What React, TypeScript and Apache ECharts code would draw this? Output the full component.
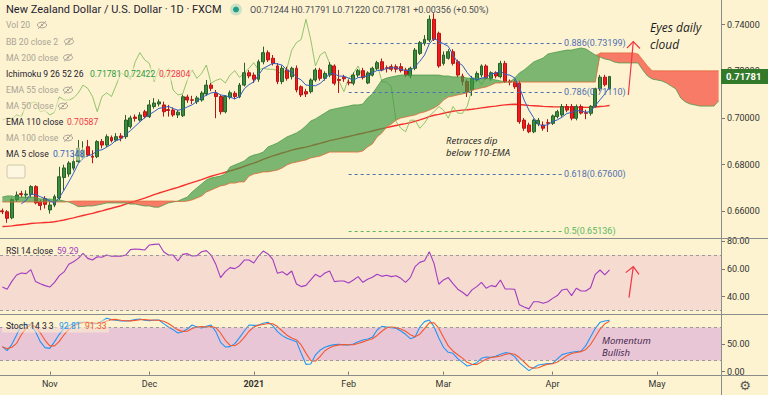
import React, { useEffect, useRef } from "react";
import * as echarts from "echarts";

const BG = "#fdf3d0";
const FONT = "Roboto, 'DejaVu Sans', sans-serif";

// ---- categories ----
const START_DATE = "2020-10-19";
const HOLIDAYS = ["2020-12-25", "2021-01-01"];
const CATEGORY_COUNT = 152;
const MONTH_LABELS: Record<string, string> = {
  "2020-11-02": "Nov",
  "2020-12-01": "Dec",
  "2021-01-04": "2021",
  "2021-02-01": "Feb",
  "2021-03-01": "Mar",
  "2021-04-01": "Apr",
  "2021-05-03": "May",
};

// ---- price data (daily OHLC) ----
const OPEN = [
  0.6602, 0.6598, 0.6572, 0.665, 0.6676, 0.667, 0.6672, 0.6706, 0.664, 0.6655,
  0.6606, 0.6627, 0.6657, 0.6745, 0.676, 0.6785, 0.6813, 0.683, 0.6877, 0.6836,
  0.6834, 0.6899, 0.6884, 0.6916, 0.6905, 0.6923, 0.692, 0.6963, 0.7004, 0.6991,
  0.7027, 0.7006, 0.7049, 0.706, 0.7056, 0.7036, 0.7034, 0.7013, 0.701, 0.709,
  0.7078, 0.707, 0.7077, 0.7103, 0.7141, 0.7106, 0.7092, 0.7027, 0.7089, 0.7106,
  0.7091, 0.7141, 0.7194, 0.7184, 0.7166, 0.7241, 0.728, 0.7256, 0.7223, 0.7156,
  0.7206, 0.7177, 0.7213, 0.7134, 0.7113, 0.7113, 0.7163, 0.7206, 0.717, 0.7184,
  0.7223, 0.7165, 0.7175, 0.7153, 0.7149, 0.7184, 0.7203, 0.715, 0.7184, 0.7213,
  0.7241, 0.7215, 0.722, 0.722, 0.722, 0.7206, 0.718, 0.7213, 0.7277, 0.732,
  0.7334, 0.7423, 0.7363, 0.7234, 0.7256, 0.7284, 0.7241, 0.718, 0.7156, 0.712,
  0.7163, 0.7184, 0.7223, 0.717, 0.7194, 0.7177, 0.7234, 0.7158, 0.7156, 0.7149,
  0.6991, 0.697, 0.6941, 0.6975, 0.697, 0.698, 0.6977, 0.7006, 0.7013, 0.7049,
  0.7049, 0.6999, 0.7049, 0.7023, 0.702, 0.705, 0.7125, 0.7175, 0.71244,
];
const HIGH = [
  0.6612, 0.6605, 0.6656, 0.6685, 0.6688, 0.669, 0.6712, 0.6712, 0.665, 0.6665,
  0.664, 0.6672, 0.6791, 0.68, 0.6815, 0.685, 0.6906, 0.69, 0.6906, 0.6862,
  0.6905, 0.691, 0.693, 0.6925, 0.6935, 0.6935, 0.7013, 0.701, 0.7015, 0.7025,
  0.7035, 0.7077, 0.7085, 0.708, 0.707, 0.7056, 0.7045, 0.7035, 0.71, 0.71,
  0.7095, 0.7095, 0.7115, 0.7163, 0.715, 0.712, 0.71, 0.7098, 0.7118, 0.7115,
  0.715, 0.7237, 0.7205, 0.7195, 0.725, 0.7306, 0.729, 0.727, 0.7235, 0.7225,
  0.722, 0.722, 0.7225, 0.714, 0.7125, 0.717, 0.7215, 0.7215, 0.72, 0.724,
  0.723, 0.7206, 0.7185, 0.7165, 0.7195, 0.721, 0.7215, 0.72, 0.722, 0.7245,
  0.7255, 0.7225, 0.723, 0.723, 0.7235, 0.7215, 0.722, 0.73, 0.733, 0.7355,
  0.744, 0.7449, 0.737, 0.7285, 0.7295, 0.7295, 0.725, 0.719, 0.7165, 0.718,
  0.72, 0.723, 0.723, 0.72, 0.72, 0.7245, 0.7245, 0.7165, 0.7165, 0.716,
  0.7, 0.698, 0.6998, 0.7, 0.6985, 0.6995, 0.7015, 0.7035, 0.706, 0.706,
  0.706, 0.7058, 0.7058, 0.7035, 0.7055, 0.713, 0.7185, 0.7185, 0.71791,
];
const LOW = [
  0.6588, 0.6551, 0.6566, 0.664, 0.666, 0.6655, 0.666, 0.663, 0.6605, 0.6612,
  0.659, 0.6618, 0.6649, 0.669, 0.6748, 0.6775, 0.6808, 0.682, 0.6835, 0.6806,
  0.6828, 0.687, 0.6875, 0.6895, 0.6898, 0.69, 0.691, 0.6955, 0.6985, 0.6985,
  0.6998, 0.7, 0.704, 0.705, 0.7006, 0.7006, 0.7005, 0.7, 0.7004, 0.7065,
  0.706, 0.706, 0.707, 0.7095, 0.7115, 0.6999, 0.7015, 0.702, 0.708, 0.708,
  0.7085, 0.7135, 0.717, 0.715, 0.7155, 0.723, 0.724, 0.7225, 0.7145, 0.7145,
  0.716, 0.7165, 0.711, 0.709, 0.709, 0.7105, 0.7155, 0.716, 0.716, 0.7175,
  0.714, 0.7107, 0.7155, 0.714, 0.714, 0.7175, 0.7165, 0.7145, 0.7178, 0.7205,
  0.72, 0.7195, 0.72, 0.7195, 0.7195, 0.7175, 0.717, 0.7205, 0.727, 0.731,
  0.7325, 0.733, 0.7215, 0.7225, 0.725, 0.7225, 0.7175, 0.714, 0.709, 0.7095,
  0.7155, 0.7175, 0.7165, 0.716, 0.717, 0.717, 0.715, 0.714, 0.7125, 0.6975,
  0.6945, 0.6935, 0.6935, 0.6965, 0.6945, 0.694, 0.697, 0.6998, 0.7005, 0.7025,
  0.699, 0.699, 0.7015, 0.6995, 0.701, 0.7045, 0.7115, 0.7135, 0.7122,
];
const CLOSE = [
  0.6598, 0.657, 0.665, 0.667, 0.6672, 0.6674, 0.6706, 0.6636, 0.6625, 0.663,
  0.6627, 0.6663, 0.6748, 0.6786, 0.6807, 0.6813, 0.687, 0.6862, 0.6841, 0.6832,
  0.6899, 0.6884, 0.692, 0.6903, 0.692, 0.6914, 0.6991, 0.7, 0.6998, 0.7013,
  0.7006, 0.7056, 0.7064, 0.7069, 0.7027, 0.7032, 0.7013, 0.7025, 0.7091, 0.7077,
  0.7076, 0.7086, 0.7107, 0.7141, 0.7127, 0.7092, 0.7027, 0.7092, 0.7108, 0.7092,
  0.7141, 0.7194, 0.718, 0.7166, 0.7241, 0.728, 0.7249, 0.7234, 0.7156, 0.7213,
  0.717, 0.7213, 0.712, 0.7099, 0.7103, 0.7163, 0.7206, 0.717, 0.7191, 0.7227,
  0.7149, 0.7161, 0.7168, 0.715, 0.7184, 0.7203, 0.7174, 0.7193, 0.7213, 0.7237,
  0.7206, 0.7213, 0.7209, 0.7209, 0.7203, 0.7184, 0.7213, 0.7291, 0.7323, 0.7337,
  0.7423, 0.7337, 0.7223, 0.727, 0.7284, 0.7234, 0.7184, 0.7156, 0.7113, 0.717,
  0.7191, 0.7223, 0.717, 0.7194, 0.718, 0.7234, 0.7156, 0.7154, 0.7134, 0.6984,
  0.6956, 0.6941, 0.6991, 0.699, 0.6956, 0.6978, 0.7009, 0.7027, 0.7049, 0.7034,
  0.6999, 0.7049, 0.7021, 0.702, 0.705, 0.7125, 0.7175, 0.71425, 0.71781,
];

// ---- Ichimoku leading spans (displaced 26 bars ahead) ----
const SPAN_A = [
  0.6661, 0.6666, 0.6666, 0.6661, 0.6661, 0.6661, 0.6661, 0.6661, 0.6653, 0.6653,
  0.6653, 0.6649, 0.6649, 0.6644, 0.664, 0.6631, 0.662, 0.6621, 0.6623, 0.6623,
  0.6627, 0.6631, 0.6636, 0.6636, 0.6636, 0.6636, 0.6636, 0.6631, 0.6631, 0.6627,
  0.6623, 0.6623, 0.6618, 0.6618, 0.6627, 0.6636, 0.664, 0.6644, 0.6653, 0.6661,
  0.6683, 0.67, 0.6717, 0.6734, 0.6743, 0.6747, 0.6751, 0.676, 0.679, 0.6799,
  0.6807, 0.6816, 0.6833, 0.6841, 0.6846, 0.6854, 0.6876, 0.6884, 0.6893, 0.6906,
  0.6919, 0.6927, 0.6936, 0.6949, 0.6966, 0.6987, 0.6996, 0.7009, 0.7021, 0.7034,
  0.7039, 0.7043, 0.7047, 0.7051, 0.7056, 0.7056, 0.706, 0.7086, 0.7103, 0.7133,
  0.7163, 0.7171, 0.7176, 0.718, 0.7184, 0.7184, 0.7184, 0.7184, 0.7184, 0.7184,
  0.7184, 0.7184, 0.7184, 0.718, 0.718, 0.7176, 0.7176, 0.7176, 0.7171, 0.7171,
  0.7171, 0.7171, 0.7171, 0.7167, 0.7163, 0.7159, 0.7154, 0.7154, 0.7171, 0.7193,
  0.7206, 0.7223, 0.724, 0.7249, 0.7257, 0.7274, 0.7279, 0.7283, 0.7287, 0.7291,
  0.7291, 0.7296, 0.73, 0.7296, 0.7283, 0.727, 0.7261, 0.7253, 0.7249, 0.724,
  0.7236, 0.7236, 0.7236, 0.7236, 0.7236, 0.7206, 0.718, 0.7167, 0.7163, 0.7159,
  0.715, 0.7137, 0.7124, 0.7086, 0.7069, 0.706, 0.7056, 0.7051, 0.7051, 0.7051,
  0.7051, 0.7073,
];
const SPAN_B = [
  0.664, 0.664, 0.664, 0.664, 0.664, 0.664, 0.664, 0.664, 0.664, 0.664,
  0.664, 0.664, 0.664, 0.664, 0.6642, 0.6644, 0.6644, 0.6644, 0.6644, 0.6644,
  0.6644, 0.6644, 0.6644, 0.6644, 0.6644, 0.6644, 0.6644, 0.6644, 0.6644, 0.6644,
  0.6644, 0.6644, 0.6644, 0.6644, 0.6644, 0.6644, 0.6644, 0.6642, 0.6642, 0.6644,
  0.6649, 0.6657, 0.6666, 0.6683, 0.6691, 0.67, 0.6709, 0.6713, 0.6721, 0.6721,
  0.6726, 0.6726, 0.6751, 0.676, 0.6764, 0.6769, 0.6769, 0.6773, 0.6777, 0.6786,
  0.6799, 0.6807, 0.6811, 0.6816, 0.682, 0.6829, 0.6833, 0.6837, 0.6846, 0.6854,
  0.6854, 0.6854, 0.6854, 0.6854, 0.6854, 0.6854, 0.6859, 0.6876, 0.6889, 0.6919,
  0.6936, 0.6961, 0.6974, 0.6991, 0.7, 0.7004, 0.7009, 0.7013, 0.7021, 0.7026,
  0.7034, 0.7043, 0.7056, 0.7077, 0.709, 0.7094, 0.7099, 0.7103, 0.7107, 0.712,
  0.7124, 0.7129, 0.7133, 0.7141, 0.715, 0.715, 0.7154, 0.7154, 0.7154, 0.7154,
  0.7154, 0.7154, 0.7154, 0.7154, 0.7154, 0.7154, 0.7154, 0.7154, 0.7154, 0.7154,
  0.7154, 0.7154, 0.7154, 0.7154, 0.7154, 0.7154, 0.7279, 0.7279, 0.7279, 0.7279,
  0.7279, 0.7279, 0.7279, 0.7279, 0.7274, 0.7249, 0.7223, 0.7202, 0.7202, 0.7202,
  0.7202, 0.7202, 0.7202, 0.7202, 0.7202, 0.7202, 0.7202, 0.7202, 0.7202, 0.7202,
  0.7202, 0.7202,
];

// ---- oscillators ----
const RSI = [
  46.9, 45.3, 51, 55.6, 57, 56.6, 59.5, 50.8, 49.3, 47.9,
  46.9, 50.3, 55.1, 57.8, 63.3, 65.2, 67.6, 71.2, 67.6, 66.4,
  68.8, 68.4, 70, 69.1, 69.3, 69.1, 70, 73.9, 74.4, 74.1,
  73.6, 77.3, 77.7, 78, 72.4, 70, 70, 65.7, 70.5, 71,
  69.3, 69.6, 72.4, 73.2, 70, 63.3, 53.7, 58, 60.9, 60.2,
  62.3, 66.4, 66.4, 64.3, 69.3, 72.9, 70.8, 66.9, 56.8, 58,
  55.6, 58.5, 49.1, 47.2, 48.1, 52, 56.1, 54.2, 57, 58.5,
  50.8, 51.3, 51.3, 49.8, 52, 54.4, 50.3, 52.5, 53.9, 56.1, 54.6,
  55.4, 54.4, 55.1, 53.2, 50.3, 53.7, 61.6, 64.7, 65.9, 72.4,
  64, 48.9, 52, 53.7, 49.3, 45.3, 43.1, 40.4, 44.8, 47.2,
  50.3, 46, 47.9, 47.2, 52, 45.5, 45.5, 45.3, 34, 32.5,
  31.1, 36.3, 36.3, 35.1, 36.3, 38.7, 40.7, 44.8, 45.5, 40.7,
  46, 44, 44, 46.4, 56.1, 59.2, 55.6, 59.29,
];
const STOCH_K = [
  45.2, 37.9, 49.4, 66.3, 84.3, 85.5, 84.3, 72.3, 54.2, 43.4,
  42.1, 54.2, 67.5, 78.3, 83.1, 86.8, 89.2, 89.2, 89.2, 86.8,
  86.8, 91.6, 96.4, 94, 92.8, 91.6, 91.6, 92.2, 94, 95.2,
  92.8, 92.2, 93.4, 93.4, 86.8, 80.7, 75.9, 69.9, 72.3, 77.1,
  84.3, 80.7, 78.9, 81.9, 84.3, 72.3, 53, 44.6, 45.2, 50.6,
  61.4, 73.5, 84.3, 83.7, 84.3, 87.4, 89.2, 83.1, 72.3, 65.1,
  60.2, 57.2, 54.2, 33.1, 13.2, 13.8, 30.1, 39.1, 44, 47,
  48.8, 49.4, 48.2, 48.2, 50, 54.2, 57.2, 59, 62, 75.3, 81.9,
  80.7, 79.5, 78.3, 73.5, 67.5, 59.6, 62.6, 80.7, 90.4, 93.4,
  81.3, 60.8, 44, 34.9, 33.1, 23.5, 16.8, 10.2, 12.6, 16.2,
  24.1, 26.5, 25.9, 27.7, 31.3, 34.3, 33.1, 27.1, 16.2, 9,
  1.8, 7.2, 12, 13.2, 14.4, 15, 22.9, 30.7, 33.1, 34.9,
  36.1, 37.3, 47, 62.6, 78.3, 89.2, 91.6, 92.81,
];

const EMA110_SEED = 0.6535; // EMA 110 value at the first visible bar
const FIB_FROM = "2021-02-01";
const FIB_TO = "2021-04-05";
const FIB_RATIOS = ["0.886", "0.786", "0.618", "0.5"];
const FIB_VALUES = [0.73199, 0.7111, 0.676, 0.65136];
const FIB_COLORS = ["#4f6fb3", "#4f6fb3", "#4f6fb3", "#5cb65f"];

const PRICE_MIN = 0.64857;
const PRICE_MAX = 0.75057;
const PRICE_TICKS = [0.66, 0.68, 0.7, 0.72, 0.74];
const RSI_MIN = 27.4;
const RSI_MAX = 81.6;
const RSI_TICKS = [40, 60, 80];
const STOCH_MIN = -6.1;
const STOCH_MAX = 102.4;
const STOCH_TICKS = [0, 50];

function tradingDays(start: string, count: number, holidays: string[]): string[] {
  const out: string[] = [];
  const d = new Date(start + "T00:00:00Z");
  while (out.length < count) {
    const day = d.getUTCDay();
    const s = d.toISOString().slice(0, 10);
    if (day !== 0 && day !== 6 && holidays.indexOf(s) < 0) out.push(s);
    d.setUTCDate(d.getUTCDate() + 1);
  }
  return out;
}

function buildGraphic(priceY: number) {
  const els: any[] = [];
  const Z = 100;
  const text = (x: number, y: number, t: string, font: string, fill: string, align = "left") =>
    els.push({ type: "text", x, y, z: Z + 2, silent: true, style: { text: t, font, fill, align, verticalAlign: "middle" } });
  const line = (x1: number, y1: number, x2: number, y2: number, stroke: string, lw = 1) =>
    els.push({ type: "line", z: Z, silent: true, shape: { x1, y1, x2, y2 }, style: { stroke, lineWidth: lw } });
  const poly = (pts: number[][], stroke: string, lw = 1.2) =>
    els.push({ type: "polyline", z: Z + 1, silent: true, shape: { points: pts }, style: { stroke, lineWidth: lw, fill: "none" } });
  const bg = (x: number, y: number, w: number, h: number) =>
    els.push({ type: "rect", z: Z + 1, silent: true, shape: { x, y, width: w, height: h }, style: { fill: "rgba(253,243,208,0.55)" } });
  const eye = (cx: number, cy: number) => {
    const c = "#aaa395";
    els.push({ type: "ellipse", z: Z + 2, silent: true, shape: { cx, cy, rx: 4.6, ry: 2.8 }, style: { stroke: c, fill: "none", lineWidth: 1 } });
    els.push({ type: "circle", z: Z + 2, silent: true, shape: { cx, cy, r: 1.1 }, style: { fill: c } });
    els.push({ type: "line", z: Z + 2, silent: true, shape: { x1: cx - 4, y1: cy + 3.8, x2: cx + 4, y2: cy - 3.8 }, style: { stroke: c, lineWidth: 1 } });
  };

  // pane separators and price-scale border
  line(0, 238.5, 768, 238.5, "#8c8c8c");
  line(0, 314.5, 768, 314.5, "#8c8c8c");
  line(0, 375.5, 768, 375.5, "#8c8c8c");
  line(721.5, 0, 721.5, 395, "#8c8c8c");

  // title & OHLC
  const dark = "#1f2230";
  const grey = "#aaa395";
  const lf = `8.6px ${FONT}`;
  text(6, 9.5, "New Zealand Dollar / U.S. Dollar · 1D · FXCM", `11px ${FONT}`, dark);
  els.push({ type: "circle", z: Z + 2, silent: true, shape: { cx: 236, cy: 9.5, r: 6 }, style: { fill: "rgba(38,166,154,0.22)" } });
  els.push({ type: "circle", z: Z + 2, silent: true, shape: { cx: 236, cy: 9.5, r: 3 }, style: { fill: "#1f9e8c" } });
  text(250, 9.5, "O0.71244 H0.71791 L0.71220 C0.71781 +0.00356 (+0.50%)", `9px ${FONT}`, "#4a4d55");

  // indicator legend rows
  bg(2, 18.5, 48, 13);
  text(6, 25, "Vol 20", lf, grey); eye(42, 25);
  bg(2, 35, 74, 13);
  text(6, 41.5, "BB 20 close 2", lf, grey); eye(69, 41.5);
  bg(2, 51, 73, 13);
  text(6, 57.5, "MA 200 close", lf, grey); eye(68, 57.5);
  bg(2, 67.5, 190, 13);
  text(6, 74, "Ichimoku 9 26 52 26", lf, dark);
  text(90, 74, "0.71781", lf, "#2f9a43");
  text(124, 74, "0.72422", lf, "#2f9a43");
  text(159, 74, "0.72804", lf, "#f23645");
  bg(2, 83.5, 73, 13);
  text(6, 90, "EMA 55 close", lf, grey); eye(68, 90);
  bg(2, 99.5, 68, 13);
  text(6, 106, "MA 50 close", lf, grey); eye(63, 106);
  bg(2, 115.5, 98, 13);
  text(6, 122, "EMA 110 close", lf, dark);
  text(67, 122, "0.70587", lf, "#f23645");
  bg(2, 131.5, 73, 13);
  text(6, 138, "MA 100 close", lf, grey); eye(68, 138);
  bg(2, 147.5, 84, 13);
  text(6, 154, "MA 5 close", lf, dark);
  text(53, 154, "0.71348", lf, "#2f5fc4");

  // collapse button
  els.push({ type: "rect", z: Z + 2, silent: true, shape: { x: 7, y: 165, width: 18, height: 13, r: 2 }, style: { fill: "#fdf6e0", stroke: "#cfc6aa", lineWidth: 1 } });
  poly([[12.5, 173.5], [16, 170], [19.5, 173.5]], "#333", 1.2);

  // RSI legend
  text(6, 250.5, "RSI 14 close", lf, dark);
  text(57, 250.5, "59.29", lf, "#a23cc0");

  // Stoch legend
  bg(2, 319.5, 107, 13);
  text(6, 325.7, "Stoch 14 3 3", lf, dark);
  text(59, 325.7, "92.81", lf, "#2196f3");
  text(85, 325.7, "91.33", lf, "#f4572e");

  // annotations (one text per line, spaced so the lines do not collide)
  const eyeFont = `italic 12px 'Open Sans'`;
  text(650, 27.5, "Eyes daily", eyeFont, "#1c1c1c");
  text(650, 44, "cloud", eyeFont, "#1c1c1c");
  const noteFont = `italic 9.5px 'Open Sans'`;
  text(446, 140.5, "Retraces dip", noteFont, "#222");
  text(446, 152.5, "below 110-EMA", noteFont, "#222");
  text(602, 340.5, "Momentum", noteFont, "#3d2048");
  text(602, 352.5, "Bullish", noteFont, "#3d2048");

  // red arrows
  const red = "#f23645";
  poly([[628.3, 95], [633.3, 41.5]], red);
  poly([[627, 48], [633.3, 41.5], [640, 48.5]], red);
  poly([[629, 297.7], [633.3, 266.7]], red);
  poly([[625.7, 272.6], [633.3, 266.7], [639, 274.3]], red);

  // current price label
  els.push({ type: "rect", z: Z + 3, silent: true, shape: { x: 721, y: priceY - 7.5, width: 47, height: 15 }, style: { fill: "#33792a" } });
  els.push({ type: "text", x: 726, y: priceY, z: Z + 4, silent: true, style: { text: CLOSE[CLOSE.length - 1].toFixed(5), font: `bold 9.5px ${FONT}`, fill: "#ffffff", align: "left", verticalAlign: "middle" } });

  // settings gear
  text(745, 385, "\u2699", `13px 'DejaVu Sans'`, "#555", "center");

  return els;
}

export default function App() {
  const ref = useRef<HTMLDivElement>(null);

  useEffect(() => {
    const el = ref.current;
    if (!el) return;
    const chart = echarts.init(el, null, { renderer: "svg" });

    const dates = tradingDays(START_DATE, CATEGORY_COUNT, HOLIDAYS);
    const candles = OPEN.map((o, i) => [o, CLOSE[i], LOW[i], HIGH[i]]);

    const k = 2 / 111;
    const ema: number[] = [];
    CLOSE.forEach((c, i) => {
      ema.push(i === 0 ? EMA110_SEED : ema[i - 1] + k * (c - ema[i - 1]));
    });
    const ma5 = CLOSE.map((_, i) => {
      if (i < 4) return null;
      let s = 0;
      for (let j = i - 4; j <= i; j++) s += CLOSE[j];
      return s / 5;
    });
    const lagging = dates.map((_, i) => (i + 26 < CLOSE.length ? CLOSE[i + 26] : null));
    const stochD = STOCH_K.map((_, i) => {
      const from = Math.max(0, i - 2);
      let s = 0;
      for (let j = from; j <= i; j++) s += STOCH_K[j];
      return s / (i - from + 1);
    });
    const cloudBase = SPAN_A.map((a, i) => Math.min(a, SPAN_B[i]));
    const cloudUp = SPAN_A.map((a, i) => Math.max(a - SPAN_B[i], 0));
    const cloudDown = SPAN_A.map((a, i) => Math.max(SPAN_B[i] - a, 0));

    const isTick = (_: number, v: string) => !!MONTH_LABELS[v];
    const xAxis = [0, 1, 2].map((g) => ({
      type: "category",
      gridIndex: g,
      data: dates,
      boundaryGap: true,
      axisLine: { show: false },
      splitLine: { show: false },
      axisTick:
        g === 2
          ? { show: true, interval: isTick, alignWithLabel: true, length: 3, lineStyle: { color: "#777" } }
          : { show: false },
      axisLabel:
        g === 2
          ? {
              show: true,
              interval: isTick,
              margin: 4,
              color: "#333",
              fontSize: 9,
              fontFamily: FONT,
              formatter: (v: string) => {
                const l = MONTH_LABELS[v] || "";
                return /^\d{4}$/.test(l) ? `{y|${l}}` : l;
              },
              rich: { y: { fontWeight: "bold", fontSize: 9, color: "#333", fontFamily: FONT } },
            }
          : { show: false },
    }));

    const yAx = (g: number, min: number, max: number, ticks: number[], digits: number) => ({
      type: "value",
      gridIndex: g,
      position: "right",
      min,
      max,
      scale: true,
      splitLine: { show: false },
      axisLine: { show: false },
      axisTick: { show: true, length: 4, customValues: ticks, lineStyle: { color: "#777" } },
      axisLabel: {
        show: true,
        customValues: ticks,
        margin: 6,
        color: "#333",
        fontSize: 9,
        fontFamily: FONT,
        formatter: (v: number) => v.toFixed(digits),
      },
    });

    const fibData = FIB_VALUES.map((v, i) => {
      const ls = { color: FIB_COLORS[i], type: [3, 3], width: 1 };
      const lb = {
        show: true,
        position: "end",
        distance: 2,
        formatter: `${FIB_RATIOS[i]}(${v.toFixed(5)})`,
        color: FIB_COLORS[i],
        fontSize: 9,
        fontFamily: FONT,
      };
      return [
        { coord: [FIB_FROM, v], lineStyle: ls, label: lb },
        { coord: [FIB_TO, v], lineStyle: ls, label: lb },
      ];
    });

    const thin = (color: string, width = 1, opacity = 1) => ({ color, width, opacity });

    chart.setOption({
      animation: false,
      backgroundColor: BG,
      textStyle: { fontFamily: FONT },
      grid: [
        { left: 0, top: 0, width: 721, height: 238 },
        { left: 0, top: 239, width: 721, height: 75 },
        { left: 0, top: 315, width: 721, height: 60 },
      ],
      xAxis,
      yAxis: [
        yAx(0, PRICE_MIN, PRICE_MAX, PRICE_TICKS, 5),
        yAx(1, RSI_MIN, RSI_MAX, RSI_TICKS, 2),
        yAx(2, STOCH_MIN, STOCH_MAX, STOCH_TICKS, 2),
      ],
      series: [
        {
          type: "candlestick",
          name: "NZDUSD",
          xAxisIndex: 0,
          yAxisIndex: 0,
          data: candles,
          barWidth: 3.4,
          z: 2,
          itemStyle: {
            color: "#388e3c",
            color0: "#f21a1a",
            borderColor: "#2a5f2a",
            borderColor0: "#b51515",
            borderWidth: 1,
          },
          markLine: { silent: true, symbol: ["none", "none"], animation: false, data: fibData },
        },
        {
          type: "line", name: "EMA 110", xAxisIndex: 0, yAxisIndex: 0, data: ema,
          symbol: "none", z: 2, lineStyle: thin("#f5302c", 1.4),
        },
        {
          type: "line", name: "Lagging span", xAxisIndex: 0, yAxisIndex: 0, data: lagging,
          symbol: "none", z: 2, lineStyle: thin("#7fbb5a", 1, 0.85),
        },
        {
          type: "line", name: "cloud base", xAxisIndex: 0, yAxisIndex: 0, data: cloudBase,
          stack: "cloud", symbol: "none", z: 3, lineStyle: { width: 0, opacity: 0 },
        },
        {
          type: "line", name: "cloud up", xAxisIndex: 0, yAxisIndex: 0, data: cloudUp,
          stack: "cloud", symbol: "none", z: 3, lineStyle: { width: 0, opacity: 0 },
          areaStyle: { color: "#3f9a43", opacity: 0.68 },
        },
        {
          type: "line", name: "cloud down", xAxisIndex: 0, yAxisIndex: 0, data: cloudDown,
          stack: "cloud", symbol: "none", z: 3, lineStyle: { width: 0, opacity: 0 },
          areaStyle: { color: "#f44336", opacity: 0.68 },
        },
        {
          type: "line", name: "Lead 1", xAxisIndex: 0, yAxisIndex: 0, data: SPAN_A,
          symbol: "none", z: 3, lineStyle: thin("#4b9b4b", 0.8),
        },
        {
          type: "line", name: "Lead 2", xAxisIndex: 0, yAxisIndex: 0, data: SPAN_B,
          symbol: "none", z: 3, lineStyle: thin("#e2693a", 0.8),
        },
        {
          type: "line", name: "MA 5", xAxisIndex: 0, yAxisIndex: 0, data: ma5,
          symbol: "none", z: 4, lineStyle: thin("#2f5fc4", 1),
        },
        {
          type: "line", name: "RSI", xAxisIndex: 1, yAxisIndex: 1, data: RSI,
          symbol: "none", z: 4, lineStyle: thin("#a23cc0", 1.1),
          markArea: { silent: true, itemStyle: { color: "#f5dbd0" }, data: [[{ yAxis: 70 }, { yAxis: 30 }]] },
          markLine: {
            silent: true, symbol: ["none", "none"], label: { show: false },
            lineStyle: { color: "#9a9a9a", type: [3, 3], width: 1 },
            data: [{ yAxis: 70 }, { yAxis: 30 }],
          },
        },
        {
          type: "line", name: "%K", xAxisIndex: 2, yAxisIndex: 2, data: STOCH_K,
          symbol: "none", z: 4, lineStyle: thin("#2196f3", 1.1),
          markArea: { silent: true, itemStyle: { color: "#e9c6d6" }, data: [[{ yAxis: 80 }, { yAxis: 20 }]] },
          markLine: {
            silent: true, symbol: ["none", "none"], label: { show: false },
            lineStyle: { color: "#9a9a9a", type: [3, 3], width: 1 },
            data: [{ yAxis: 80 }, { yAxis: 20 }],
          },
        },
        {
          type: "line", name: "%D", xAxisIndex: 2, yAxisIndex: 2, data: stochD,
          symbol: "none", z: 4, lineStyle: thin("#f4572e", 1.1),
        },
      ],
    });

    const py = chart.convertToPixel({ yAxisIndex: 0 }, CLOSE[CLOSE.length - 1]) as number;
    chart.setOption({ graphic: buildGraphic(py) });

    return () => chart.dispose();
  }, []);

  return (
    <div
      ref={ref}
      style={{ position: "fixed", left: 0, top: 0, width: 768, height: 395, background: BG }}
    />
  );
}
